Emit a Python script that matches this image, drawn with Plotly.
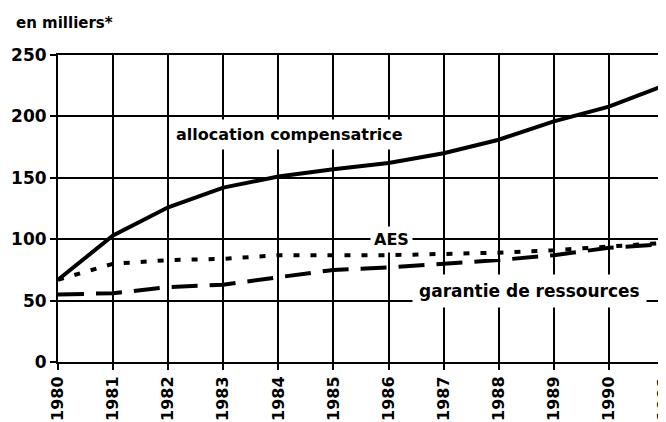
import plotly.graph_objects as go

years = [1980, 1981, 1982, 1983, 1984, 1985, 1986, 1987, 1988, 1989, 1990, 1991]
allocation = [67, 103, 126, 142, 151, 157, 162, 170, 181, 196, 208, 225]
aes = [67, 80, 83, 84, 87, 87, 87, 88, 89, 91, 94, 97]
garantie = [55, 56, 61, 63, 69, 75, 77, 80, 83, 87, 93, 96]
y_ticks = [0, 50, 100, 150, 200, 250]

FONT = "DejaVu Sans"
BFONT = dict(family=FONT, size=16, color="black", weight="bold")
fig = go.Figure()
fig.add_trace(go.Scatter(x=years, y=garantie, mode="lines",
                         line=dict(color="black", width=4, dash="26px,12px")))
fig.add_trace(go.Scatter(x=years, y=aes, mode="lines",
                         line=dict(color="black", width=4, dash="6px,11px")))
fig.add_trace(go.Scatter(x=years, y=allocation, mode="lines",
                         line=dict(color="black", width=4)))

# page body has an 8px margin: size the figure so the plot sits where the reference has it
fig.update_layout(
    width=658, height=414,
    margin=dict(l=50, r=2, t=47, b=60),
    paper_bgcolor="white", plot_bgcolor="white",
    showlegend=False,
    font=dict(family=FONT, size=16, color="black"),
    xaxis=dict(range=[1980, 1991], tickvals=years, ticktext=[str(y) for y in years],
               tickangle=-90, showgrid=True, gridcolor="black", gridwidth=1.5,
               showline=True, linecolor="black", linewidth=2, mirror=True,
               ticks="outside", ticklen=6, tickwidth=1.5, tickcolor="black",
               tickfont=BFONT, zeroline=False, automargin=False,
               ticklabeloverflow="allow"),
    yaxis=dict(range=[0, 250], tickvals=y_ticks, showgrid=True, gridcolor="black",
               gridwidth=1.5, showline=True, linecolor="black", linewidth=2, mirror=True,
               ticks="outside", ticklen=6, tickwidth=1.5, tickcolor="black",
               tickfont=dict(family=FONT, size=17, color="black", weight="bold"),
               zeroline=False, automargin=False, ticklabeloverflow="allow"),
)

fig.add_annotation(xref="paper", yref="paper", x=-0.072, y=1.105, xanchor="left", yanchor="middle",
                   text="en milliers*", showarrow=False,
                   font=dict(family=FONT, size=15, color="black", weight="bold"))
fig.add_annotation(x=1984.2, y=185, text="allocation compensatrice", showarrow=False,
                   bgcolor="white", borderpad=5, font=BFONT)
fig.add_annotation(x=1986.05, y=100, text="AES", showarrow=False,
                   bgcolor="white", borderpad=3, font=BFONT)
fig.add_annotation(x=1988.55, y=58, text="garantie de ressources", showarrow=False,
                   bgcolor="white", borderpad=6,
                   font=dict(family=FONT, size=17, color="black", weight="bold"))

fig.write_html("out.html")
